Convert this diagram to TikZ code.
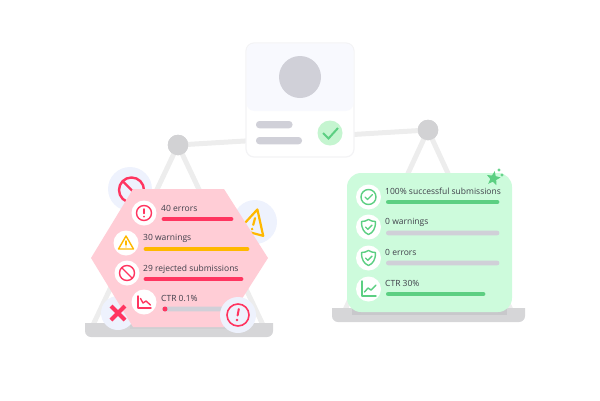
\documentclass[tikz,border=0pt]{standalone}
\usepackage{fontspec}
\setmainfont{Open Sans}
\usetikzlibrary{calc}
\definecolor{beam}{HTML}{EDEDED}
\definecolor{cardedge}{HTML}{F3F3F5}
\definecolor{base}{HTML}{D6D6D8}
\definecolor{baseshade}{HTML}{C8C8CB}
\definecolor{pivot}{HTML}{D2D2D4}
\definecolor{halo}{HTML}{EEF2FD}
\definecolor{hex}{HTML}{FFCDD6}
\definecolor{mint}{HTML}{CDFBDC}
\definecolor{rd}{HTML}{FF3560}
\definecolor{am}{HTML}{FFB800}
\definecolor{gn}{HTML}{5CCF82}
\definecolor{gy}{HTML}{D0D0D8}
\definecolor{ink}{HTML}{3F3F4A}
\definecolor{cardtop}{HTML}{F8F9FE}
\definecolor{okbg}{HTML}{C5F5D0}
\tikzset{
  strut/.style={draw=beam,line width=5pt,line cap=round},
  pivotdot/.style={circle,fill=pivot,inner sep=0pt,minimum size=20.5pt},
  lbl/.style={anchor=west,inner sep=0pt,text=ink,font=\fontsize{8.5}{10}\selectfont},
  bar/.style={line width=4.8pt,line cap=round},
  barbox/.style={rounded corners=2.4pt},
  badge/.style={circle,fill=white,inner sep=0pt,minimum size=25pt},
  halodot/.style={circle,fill=halo,inner sep=0pt},
  ico/.style={line width=1.4pt,line join=round,line cap=round},
}
\begin{document}
\begin{tikzpicture}[x=1pt,y=-1pt]
\useasboundingbox (0,0) rectangle (600,400);
% scales
\node[pivotdot] (pl) at (178,145) {};
\node[pivotdot] (pr) at (428,130) {};
\coordinate (ll) at (93,325); \coordinate (lr) at (263,325);
\coordinate (rl) at (345,310); \coordinate (rr) at (511,310);
\draw[strut] (ll) -- (pl.center) -- (lr);
\draw[strut] (rl) -- (pr.center) -- (rr);
\draw[strut] (pl.center) -- (pr.center);
\node[pivotdot] at (pl) {};
\node[pivotdot] at (pr) {};
% bases
\fill[base] (85,323) -- (273,323) -- (273,331) arc (0:90:6) -- (91,337) arc (90:180:6) -- cycle;
\fill[base] (332,308) -- (525,308) -- (525,316) arc (0:90:6) -- (338,322) arc (90:180:6) -- cycle;
\fill[baseshade,opacity=.45] (130,323) rectangle (228,329);
\fill[baseshade] (352,308) rectangle (507,315);
% halos behind hexagon
\node[halodot,minimum size=44pt] (h1) at (130,189) {};
\draw[rd,line width=2.4pt] (131.5,190) circle (12.5);
\draw[rd,line width=2.4pt] (123,181.5) -- (140,198.5);
\node[halodot,minimum size=44pt] (h2) at (255,222) {};
\begin{scope}[shift={(254,222)},rotate=-15]
\draw[am,line width=2.2pt,line join=round] (0,-13) -- (12.5,11) -- (-12.5,11) -- cycle;
\draw[am,line width=2.2pt,line cap=round] (0,-4) -- (0,3);
\fill[am] (0,7.3) circle (1.4);
\end{scope}
\node[halodot,minimum size=34pt] (h3) at (118,313) {};
% hexagon
\fill[hex] (133,189) -- (224,189) -- (268,258) -- (224,327) -- (133,327) -- (91,258) -- cycle;
% red cross
\draw[rd,line width=4.2pt] (111,306) -- (125,320) (125,306) -- (111,320);
% left rows
\node[badge] (a1) at (144,213) {};
\node[badge] (a2) at (126,243) {};
\node[badge] (a3) at (127,273) {};
\node[badge] (a4) at (144,302) {};
\draw[rd,ico] (a1) circle (7.5);
\draw[rd,ico] (144,209) -- (144,213.5);
\fill[rd] (144,216.6) circle (.9);
\draw[am,ico] (126,236) -- (133.5,249) -- (118.5,249) -- cycle;
\draw[am,ico] (126,241) -- (126,245);
\fill[am] (126,247) circle (.6);
\draw[rd,ico] (a3) circle (7.5);
\draw[rd,ico] (121.7,267.7) -- (132.3,278.3);
\draw[rd,ico] (138,296) -- (138,308) -- (151,308);
\draw[rd,ico] (140.5,298.5) -- (143,303) -- (146,301) -- (150.5,305);
\node[lbl] (ta1) at (161,208.6) {40 errors};
\node[lbl] (ta2) at (143,238.6) {30 warnings};
\node[lbl] (ta3) at (143,269.4) {29 rejected submissions};
\node[lbl] (ta4) at (161,298.6) {CTR 0.1\%};
\draw[bar,rd] (164,219) -- (231,219);
\draw[bar,am] (146,249) -- (247,249);
\draw[bar,rd] (146,279) -- (241,279);
\fill[gy,barbox] (162,306.6) rectangle (234,311.4);
\fill[rd] (165,309) circle (2.5);
% exclamation badge
\node[halodot,minimum size=36pt] (h4) at (238,315) {};
\draw[rd,line width=1.6pt] (h4) circle (11);
\draw[rd,line width=2pt,line cap=round] (238.8,309) -- (237.6,315.5);
\fill[rd] (237,320) circle (1.3);
% mint card
\fill[mint,rounded corners=14pt] (347,173) rectangle (512,312);
\node[badge] (b1) at (368.5,197) {};
\node[badge] (b2) at (368.5,227) {};
\node[badge] (b3) at (368.5,258) {};
\node[badge] (b4) at (368.5,289) {};
\draw[gn,ico] (b1) circle (7.5);
\draw[gn,ico] (365,197) -- (367.5,199.5) -- (372.5,194.5);
\foreach \c in {227,258}{
  \draw[gn,ico] (368.5,\c-7.5) .. controls (371,\c-6) and (373,\c-5.5) .. (375.5,\c-5.5) .. controls (375.5,\c+2) and (373,\c+5.5) .. (368.5,\c+7.5) .. controls (364,\c+5.5) and (361.5,\c+2) .. (361.5,\c-5.5) .. controls (364,\c-5.5) and (366,\c-6) .. (368.5,\c-7.5) -- cycle;
  \draw[gn,ico] (365.5,\c) -- (367.8,\c+2.3) -- (372,\c-2);
}
\draw[gn,ico] (362,281) -- (362,296) -- (376,296);
\draw[gn,ico] (364.5,292) -- (368,288) -- (371,290) -- (376,285);
\node[lbl] (tb1) at (385,191.6) {100\% successful submissions};
\node[lbl] (tb2) at (385,222.6) {0 warnings};
\node[lbl] (tb3) at (385,252.6) {0 errors};
\node[lbl] (tb4) at (385,283.6) {CTR 30\%};
\draw[bar,gn] (388.4,202) -- (497,202);
\fill[gy,barbox] (386,230.6) rectangle (499.4,235.4);
\fill[gy,barbox] (386,260.6) rectangle (499.4,265.4);
\draw[bar,gn] (388.4,294) -- (483,294);
% star and sparkles
\fill[gn,rotate around={-10:(493.5,178)}] (493.5,171) -- (495.4,175.8) -- (500.4,176.2) -- (496.5,179.5) -- (497.7,184.6) -- (493.5,181.8) -- (489.3,184.6) -- (490.5,179.5) -- (486.6,176.2) -- (491.6,175.8) -- cycle;
\foreach \p/\r in {499/170,502/175}{
  \fill[gn] (\p,\r-2) -- (\p+.6,\r-.6) -- (\p+2,\r) -- (\p+.6,\r+.6) -- (\p,\r+2) -- (\p-.6,\r+.6) -- (\p-2,\r) -- (\p-.6,\r-.6) -- cycle;
}
% profile card
\draw[draw=cardedge,fill=white,line width=1.2pt,rounded corners=8pt] (246,43) rectangle (354,157);
\fill[cardtop,rounded corners=8pt] (246.5,43.5) -- (353.5,43.5) -- (353.5,111) -- (246.5,111) -- cycle;
\node[circle,fill=gy,inner sep=0pt,minimum size=42pt] (avatar) at (300,77) {};
\fill[gy,rounded corners=3.4pt] (256,121) rectangle (292.5,128.3);
\fill[gy,rounded corners=3.4pt] (256,137) rectangle (302,144.3);
\node[circle,fill=okbg,inner sep=0pt,minimum size=25pt] (ok) at (330,133) {};
\draw[gn,line width=2pt] (323,133) -- (328.5,138.5) -- (338,128);
\end{tikzpicture}
\end{document}
